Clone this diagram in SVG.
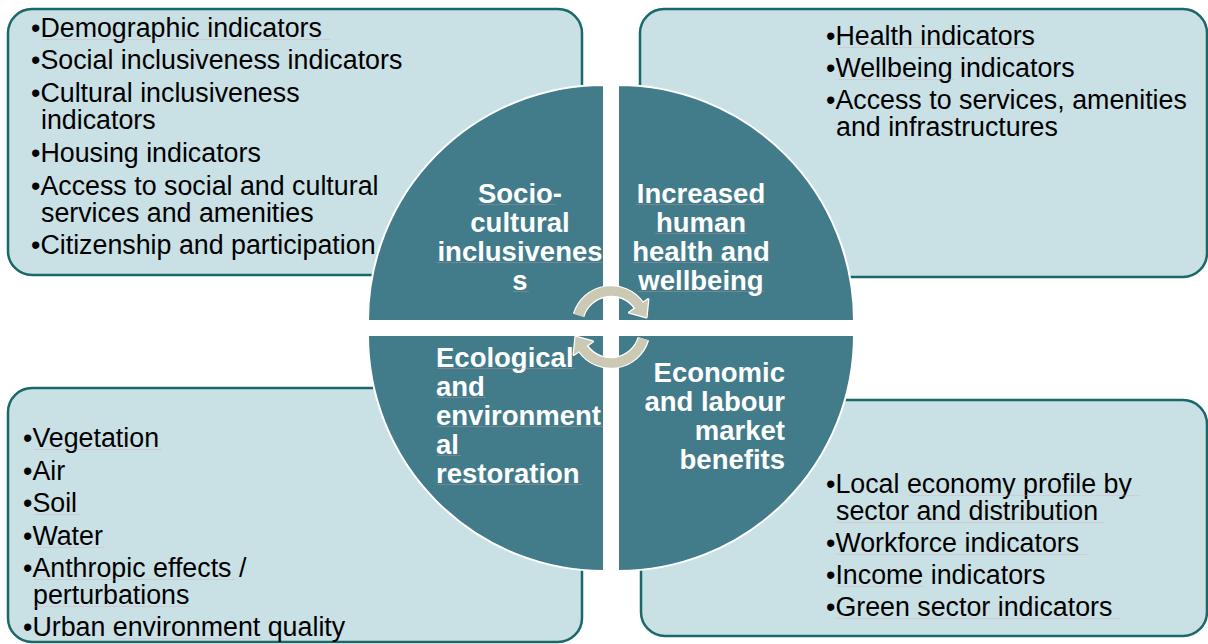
<svg xmlns="http://www.w3.org/2000/svg" xmlns:xlink="http://www.w3.org/1999/xlink" width="1208" height="644" viewBox="0 0 1208 644">
<style>
  .box { fill: #C9E0E5; stroke: #1A6868; stroke-width: 2.5; }
  .quad { fill: #427B89; stroke: #FFFFFF; stroke-width: 2; }
  .item { font-family: "Liberation Sans", Arial, sans-serif; font-size: 26.8px; fill: #000000; }
  .head { font-family: "Liberation Sans", Arial, sans-serif; font-size: 27.5px; font-weight: bold; fill: #FFFFFF; }
  .sq { stroke: #E09AA5; stroke-width: 1; fill: none; opacity: 0.3; }
  .arrW { fill: none; stroke: #FFFFFF; stroke-width: 12; }
  .arrB { fill: none; stroke: #CBC9B3; stroke-width: 9.5; }
</style>
<defs>
  <g id="cyc">
    <path class="arrW" d="M578.6,315.3 A34,34 0 0 1 638.9,305.5"/>
    <polygon points="648.2,299.2 629.2,312.5 646.4,317.2" fill="#FFFFFF" stroke="#FFFFFF" stroke-width="2.5" stroke-linejoin="round"/>
    <path class="arrB" d="M578.6,315.3 A34,34 0 0 1 639.4,305.9"/>
    <polygon points="648.2,299.2 629.2,312.5 646.4,317.2" fill="#CBC9B3"/>
  </g>
</defs>

<g id="box-social">
  <rect class="box" x="8" y="9" width="574" height="266" rx="24"/>
  <text class="item" x="31" y="37">•Demographic indicators</text>
  <text class="item" x="31" y="69">•Social inclusiveness indicators</text>
  <text class="item" x="31" y="102">•Cultural inclusiveness</text>
  <text class="item" x="41" y="129">indicators</text>
  <text class="item" x="31" y="162">•Housing indicators</text>
  <text class="item" x="31" y="195">•Access to social and cultural</text>
  <text class="item" x="41" y="222">services and amenities</text>
  <text class="item" x="31" y="254">•Citizenship and participation</text>
</g>

<g id="box-health">
  <rect class="box" x="640" y="9" width="567" height="268" rx="24"/>
  <text class="item" x="826" y="45">•Health indicators</text>
  <text class="item" x="826" y="77">•Wellbeing indicators</text>
  <text class="item" x="826" y="109">•Access to services, amenities</text>
  <text class="item" x="836" y="136">and infrastructures</text>
</g>

<g id="box-ecological">
  <rect class="box" x="8" y="388" width="574" height="254" rx="24"/>
  <text class="item" x="23" y="447">•Vegetation</text>
  <text class="item" x="23" y="480">•Air</text>
  <text class="item" x="23" y="512">•Soil</text>
  <text class="item" x="23" y="545">•Water</text>
  <text class="item" x="23" y="577">•Anthropic effects /</text>
  <text class="item" x="33" y="604">perturbations</text>
  <text class="item" x="23" y="636">•Urban environment quality</text>
</g>

<g id="box-economic">
  <rect class="box" x="641" y="400" width="566" height="236" rx="24"/>
  <text class="item" x="826" y="493">•Local economy profile by</text>
  <text class="item" x="836" y="520">sector and distribution</text>
  <text class="item" x="826" y="552">•Workforce indicators</text>
  <text class="item" x="826" y="584">•Income indicators</text>
  <text class="item" x="826" y="616">•Green sector indicators</text>
</g>

<g id="quad-social">
  <path class="quad" d="M604,321 L368,321 A236,236 0 0 1 604,85 Z"/>
  <text class="head" text-anchor="middle" x="520" y="203">Socio-</text>
  <text class="head" text-anchor="middle" x="520" y="232">cultural</text>
  <text class="head" text-anchor="middle" x="520" y="261">inclusivenes</text>
  <text class="head" text-anchor="middle" x="520" y="290">s</text>
</g>

<g id="quad-health">
  <path class="quad" d="M618,321 L618,85 A236,236 0 0 1 854,321 Z"/>
  <text class="head" text-anchor="middle" x="701" y="203">Increased</text>
  <text class="head" text-anchor="middle" x="701" y="232">human</text>
  <text class="head" text-anchor="middle" x="701" y="261">health and</text>
  <text class="head" text-anchor="middle" x="701" y="290">wellbeing</text>
</g>

<g id="quad-ecological">
  <path class="quad" d="M604,335 L604,571 A236,236 0 0 1 368,335 Z"/>
  <text class="head" x="436" y="367">Ecological</text>
  <text class="head" x="436" y="396">and</text>
  <text class="head" x="436" y="425">environment</text>
  <text class="head" x="436" y="454">al</text>
  <text class="head" x="436" y="483">restoration</text>
</g>

<g id="quad-economic">
  <path class="quad" d="M618,335 L854,335 A236,236 0 0 1 618,571 Z"/>
  <text class="head" text-anchor="end" x="785" y="382">Economic</text>
  <text class="head" text-anchor="end" x="785" y="411">and labour</text>
  <text class="head" text-anchor="end" x="785" y="440">market</text>
  <text class="head" text-anchor="end" x="785" y="469">benefits</text>
</g>

<g id="spellcheck-marks">
  <line class="sq" x1="42" y1="39.5" x2="330" y2="39.5"/>
  <line class="sq" x1="838" y1="47.5" x2="1035" y2="47.5"/>
  <line class="sq" x1="838" y1="79.5" x2="954" y2="79.5"/>
  <line class="sq" x1="34" y1="449.5" x2="162" y2="449.5"/>
  <line class="sq" x1="34" y1="514.5" x2="80" y2="514.5"/>
  <line class="sq" x1="34" y1="547.5" x2="105" y2="547.5"/>
  <line class="sq" x1="34" y1="579.5" x2="235" y2="579.5"/>
  <line class="sq" x1="34" y1="606.5" x2="190" y2="606.5"/>
  <line class="sq" x1="115" y1="638.5" x2="262" y2="638.5"/>
  <line class="sq" x1="909" y1="495.5" x2="1139" y2="495.5"/>
  <line class="sq" x1="837" y1="522.5" x2="1105" y2="522.5"/>
  <line class="sq" x1="837" y1="554.5" x2="1087" y2="554.5"/>
  <line class="sq" x1="837" y1="586.5" x2="924" y2="586.5"/>
  <line class="sq" x1="837" y1="618.5" x2="1120" y2="618.5"/>
  <line class="sq" x1="478" y1="204.5" x2="556" y2="204.5"/>
  <line class="sq" x1="437" y1="262.5" x2="604" y2="262.5"/>
  <line class="sq" x1="513" y1="291.5" x2="529" y2="291.5"/>
  <line class="sq" x1="636" y1="204.5" x2="765" y2="204.5"/>
  <line class="sq" x1="655" y1="233.5" x2="747" y2="233.5"/>
  <line class="sq" x1="633" y1="262.5" x2="770" y2="262.5"/>
  <line class="sq" x1="638" y1="291.5" x2="764" y2="291.5"/>
  <line class="sq" x1="437" y1="368.5" x2="575" y2="368.5"/>
  <line class="sq" x1="437" y1="397.5" x2="486" y2="397.5"/>
  <line class="sq" x1="437" y1="426.5" x2="604" y2="426.5"/>
  <line class="sq" x1="437" y1="455.5" x2="461" y2="455.5"/>
  <line class="sq" x1="437" y1="484.5" x2="583" y2="484.5"/>
</g>

<g id="cycle-arrows">
  <use xlink:href="#cyc" href="#cyc"/>
  <use xlink:href="#cyc" href="#cyc" transform="rotate(180 611 327)"/>
</g>
</svg>
